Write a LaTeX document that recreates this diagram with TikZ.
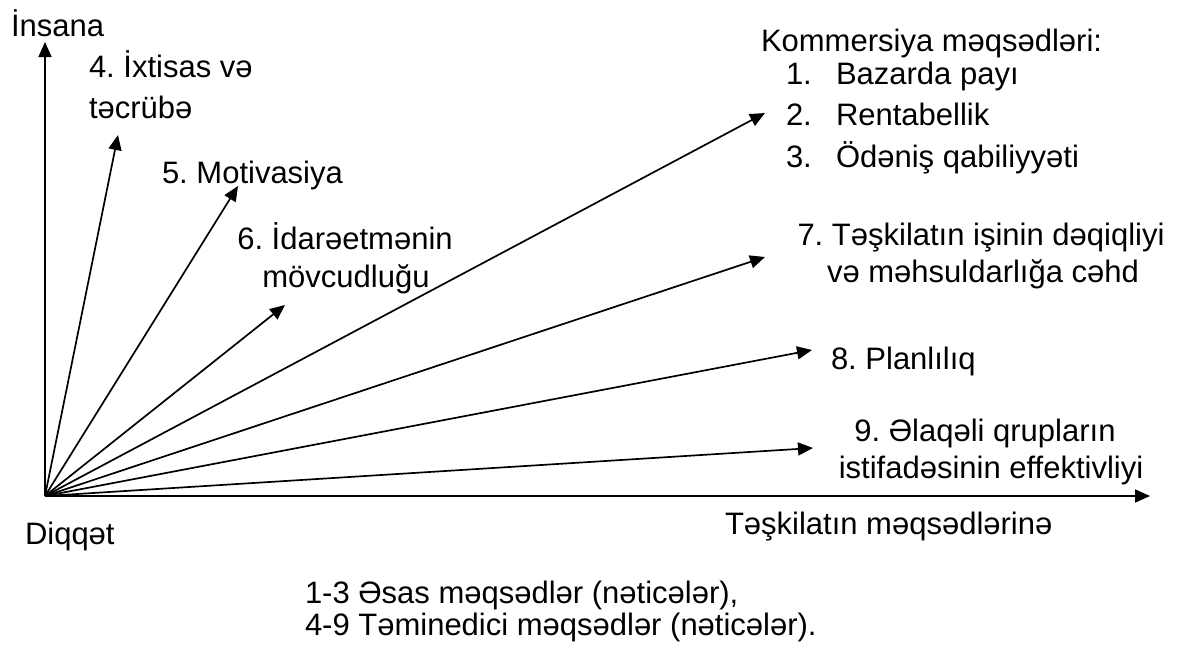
\documentclass[tikz,border=0pt]{standalone}
\usepackage{fontspec}
\setmainfont{Liberation Sans}
\usetikzlibrary{arrows.meta}
\tikzset{
  arr/.style={line width=1.7pt, -{Triangle[length=15pt,width=13pt]}},
  lbl/.style={inner sep=0pt, outer sep=0pt, font=\fontsize{31}{37}\selectfont\frenchspacing},
}
\begin{document}
\begin{tikzpicture}[x=1pt,y=-1pt]
\useasboundingbox (0,0) rectangle (1181,657);
\fill[white] (0,0) rectangle (1181,657);
% origin and tips
\coordinate (O) at (45,496);
\coordinate (Ytip) at (45,42);
\coordinate (Xtip) at (1150,496);
\coordinate (t4) at (118,135);
\coordinate (t5) at (238,186);
\coordinate (t6) at (285,305);
\coordinate (tK) at (765,113);
\coordinate (t7) at (765,257);
\coordinate (t8) at (812,350);
\coordinate (t9) at (813,448);
% axes
\draw[arr] (O) -- (Ytip);
\draw[arr] (O) -- (Xtip);
% vectors
\foreach \t in {t4,t5,t6,tK,t7,t8,t9} \draw[arr] (O) -- (\t);
% labels
\node[lbl, anchor=base west] (ins) at (11,36) {İnsana};
\node[lbl, anchor=base west] (l4a) at (89,77) {4. İxtisas və};
\node[lbl, anchor=base west] (l4b) at (89,118) {təcrübə};
\node[lbl, anchor=base west] (l5) at (162,183) {5. Motivasiya};
\node[lbl, anchor=base] (l6a) at (345,249) {6. İdarəetmənin};
\node[lbl, anchor=base] (l6b) at (346,287) {mövcudluğu};
\node[lbl, anchor=base west] (kom) at (761,51) {Kommersiya məqsədləri:};
\node[lbl, anchor=base west] (n1) at (786,84) {1.};
\node[lbl, anchor=base west] (k1) at (836,84) {Bazarda payı};
\node[lbl, anchor=base west] (n2) at (786,125) {2.};
\node[lbl, anchor=base west] (k2) at (836,125) {Rentabellik};
\node[lbl, anchor=base west] (n3) at (786,167) {3.};
\node[lbl, anchor=base west] (k3) at (836,167) {Ödəniş qabiliyyəti};
\node[lbl, anchor=base] (l7a) at (981,245) {7. Təşkilatın işinin dəqiqliyi};
\node[lbl, anchor=base] (l7b) at (983,282) {və məhsuldarlığa cəhd};
\node[lbl, anchor=base west] (l8) at (831,369) {8. Planlılıq};
\node[lbl, anchor=base] (l9a) at (985,441) {9. Əlaqəli qrupların};
\node[lbl, anchor=base] (l9b) at (991,478) {istifadəsinin effektivliyi};
\node[lbl, anchor=base west] (xl) at (725,534) {Təşkilatın məqsədlərinə};
\node[lbl, anchor=base west] (dq) at (25,544) {Diqqət};
\node[lbl, anchor=base west] (b1) at (305,603) {1-3 Əsas məqsədlər (nəticələr),};
\node[lbl, anchor=base west] (b2) at (305,635) {4-9 Təminedici məqsədlər (nəticələr).};
\end{tikzpicture}
\end{document}
